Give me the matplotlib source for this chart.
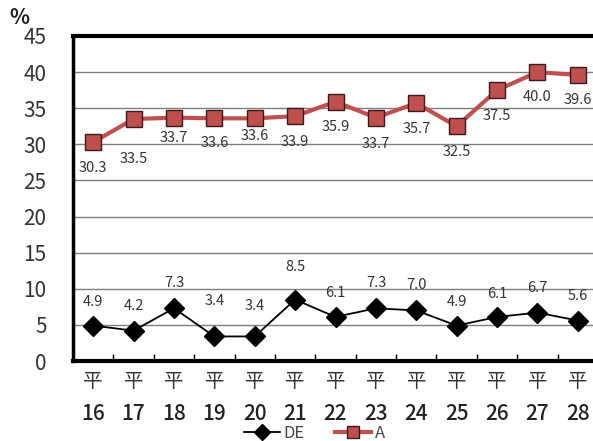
import numpy as np
import matplotlib
matplotlib.use("Agg")
import matplotlib.pyplot as plt
from matplotlib.lines import Line2D

plt.rcParams['font.family'] = ['Noto Sans CJK JP', 'DejaVu Sans']

# Data
years = ["16", "17", "18", "19", "20", "21", "22", "23", "24", "25", "26", "27", "28"]
de_values = [4.9, 4.2, 7.3, 3.4, 3.4, 8.5, 6.1, 7.3, 7.0, 4.9, 6.1, 6.7, 5.6]
a_values = [30.3, 33.5, 33.7, 33.6, 33.6, 33.9, 35.9, 33.7, 35.7, 32.5, 37.5, 40.0, 39.6]

# label offsets (pixels)
a_offsets = [-26, -40, -20, -25, -18, -26, -25, -26, -26, -26, -26, -25, -25]
de_offsets = [24, 25, 25, 35, 30, 33, 24, 25, 25, 24, 23, 25, 25]

red = "#c0504d"

fig = plt.figure(figsize=(5.93, 4.41), dpi=100)
ax = fig.add_axes([73 / 593, 1 - 361 / 441, 525 / 593, 325 / 441])

x = np.arange(len(years))

ax.plot(x, de_values, color="black", lw=1.3, marker="D", ms=10,
        mfc="black", mec="black", zorder=3)
ax.plot(x, a_values, color=red, lw=3, marker="s", ms=11,
        mfc=red, mec="#3a1a1a", mew=1.0, zorder=4)

for i in range(len(years)):
    ax.annotate(f"{a_values[i]:.1f}", (x[i], a_values[i]), xytext=(0, a_offsets[i]),
                textcoords="offset pixels", ha="center", va="center",
                fontsize=10.5, color="#333333")
    ax.annotate(f"{de_values[i]:.1f}", (x[i], de_values[i]), xytext=(0, de_offsets[i]),
                textcoords="offset pixels", ha="center", va="center",
                fontsize=10.5, color="#333333")

# axes
ax.set_xlim(-0.5, len(years) - 0.5)
ax.set_ylim(0, 45)
ax.set_yticks(np.arange(0, 50, 5))
ax.yaxis.grid(True, color="#7f7f7f", lw=1)
ax.set_axisbelow(True)

# x labels: "平" row and year row
ax.set_xticks(x)
ax.set_xticklabels(["平"] * len(years), fontsize=14, color="#333333")
for i in range(len(years)):
    ax.annotate(years[i], (x[i], 0), xytext=(0, -53), textcoords="offset pixels",
                xycoords=("data", "axes fraction"), ha="center", va="center",
                fontsize=15, fontweight="medium", color="#222222",
                annotation_clip=False)
ax.set_xticks(x[:-1] + 0.5, minor=True)
ax.tick_params(axis="x", which="major", length=0, pad=7)
ax.tick_params(axis="x", which="minor", direction="in", length=5, width=1)
ax.tick_params(axis="y", length=0, pad=19, labelsize=15, labelcolor="#333333")

for side in ["top", "bottom"]:
    ax.spines[side].set_linewidth(3)
ax.spines["left"].set_linewidth(2.5)
ax.spines["right"].set_visible(False)

fig.text(9 / 593, 1 - 18 / 441, "%", fontsize=15, fontweight="bold",
         ha="left", va="center", color="#222222")

handles = [
    Line2D([], [], color="black", lw=1.3, marker="D", ms=8, mfc="black"),
    Line2D([], [], color=red, lw=3, marker="s", ms=9, mfc=red, mec="#3a1a1a"),
]
fig.legend(handles, ["DE", "A"], loc="center", bbox_to_anchor=(0.53, 1 - 433 / 441),
           ncol=2, frameon=False, fontsize=12, handlelength=2.2, handletextpad=0.2,
           columnspacing=1.8, labelcolor="#444444", borderpad=0)

fig.savefig("out.png", dpi=100)
